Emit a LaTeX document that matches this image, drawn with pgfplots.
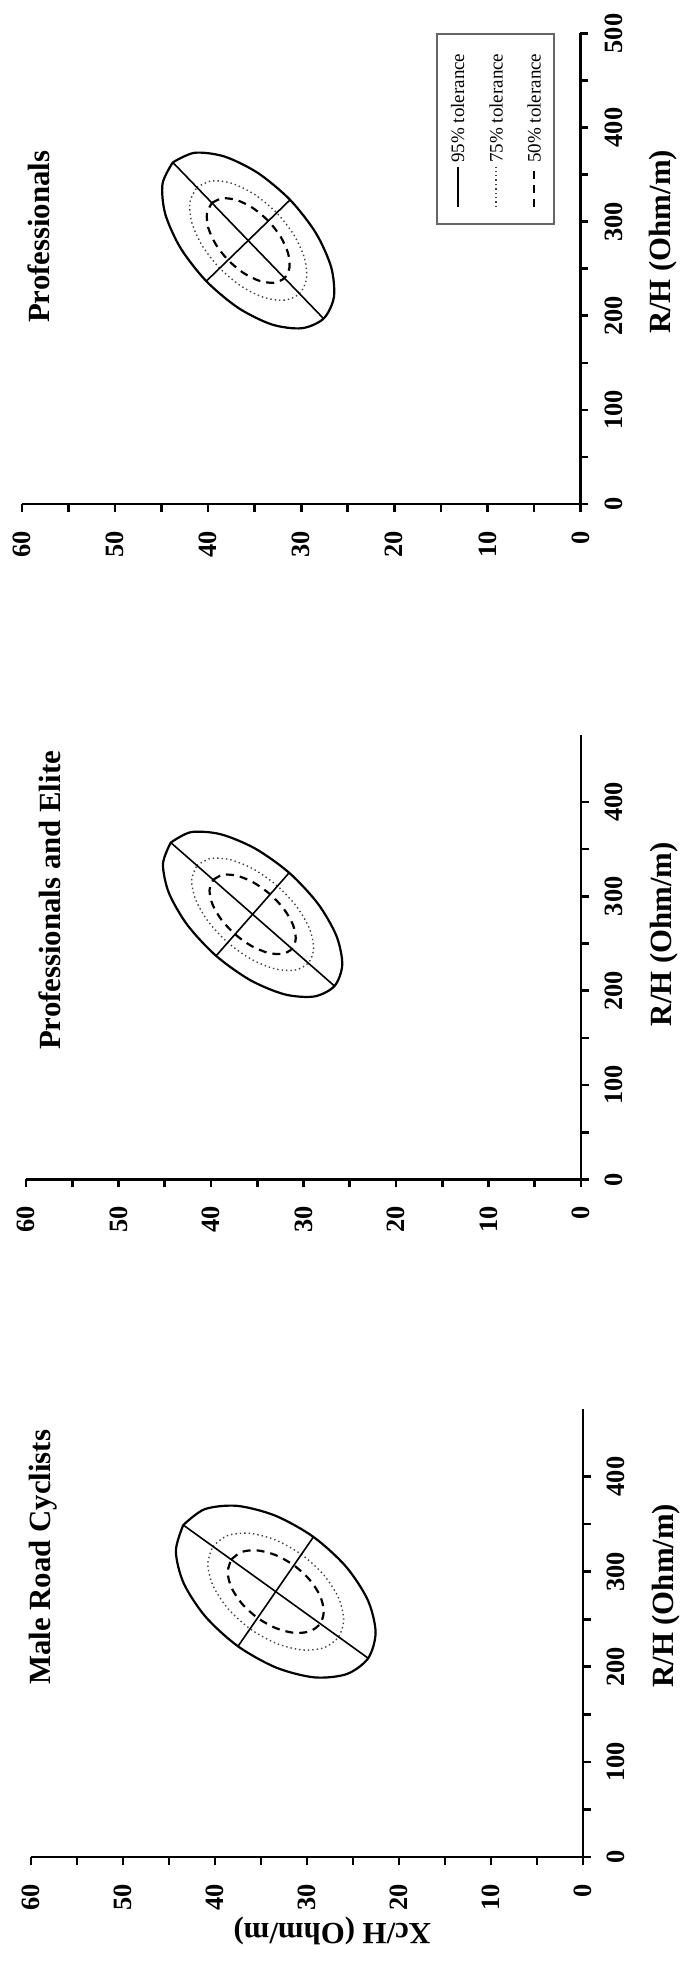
\documentclass[border=0pt]{standalone}
\usepackage{fontspec}
\setmainfont{Liberation Serif}
\usepackage{pgfplots}
\pgfplotsset{compat=1.18}

\newcommand{\tickfont}{\fontsize{13.2}{14}\selectfont\bfseries}
\newcommand{\labfont}{\fontsize{15.4}{16}\selectfont\bfseries}
\newcommand{\legfont}{\fontsize{9.5}{11}\selectfont}

\tikzset{
  e95/.style={black, line width=1.1pt, smooth},
  e75/.style={black!75, line width=0.7pt, dash pattern=on 0.7pt off 1.5pt, smooth},
  e50/.style={black, line width=1.1pt, dash pattern=on 4pt off 3pt, smooth},
}
\pgfplotsset{
  panel/.style={
    scale only axis,
    anchor=origin,
    x dir=reverse,
    xmin=0, xmax=60, ymin=0,
    axis x line*=bottom,
    axis y line*=right,
    clip=false,
    tick align=outside,
    xtick={0,10,...,60},
    minor x tick num=1,
    minor y tick num=1,
    major tick length=4pt,
    minor tick length=4pt,
    axis line style={line width=1.3pt, black},
    every tick/.style={line width=1.3pt, black},
    /pgf/number format/assume math mode=true,
    tick label style={font=\tickfont},
    xticklabel style={rotate=90, anchor=east},
    yticklabel style={rotate=90, anchor=north},
    xticklabel shift=6pt,
    yticklabel shift=4.5pt,
  },
  eax/.style={black, line width=0.8pt, forget plot},
}

\begin{document}
\begin{tikzpicture}
\path[use as bounding box] (0,0) rectangle (340.5pt,982.5pt);

% ---- Professionals (top) ----
\begin{axis}[panel,
    at={(290.25pt,730.5pt)}, width=279.25pt, height=235.25pt,
    ymax=500, ytick={0,100,...,500}]
\addplot[e95] coordinates {(43.8,363) (41.462,373.21) (38.246,369.24) (34.642,351.67) (31.2,323.2) (28.442,288.15) (26.791,251.86) (26.494,219.85) (27.6,197) (29.938,186.79) (33.154,190.76) (36.758,208.33) (40.2,236.8) (42.958,271.85) (44.609,308.14) (44.906,340.15) (43.8,363)};
\addplot[e75] coordinates {(41.208,336.44) (39.618,343.38) (37.431,340.68) (34.981,328.74) (32.64,309.38) (30.765,285.54) (29.642,260.86) (29.44,239.1) (30.192,223.56) (31.782,216.62) (33.969,219.32) (36.419,231.26) (38.76,250.62) (40.635,274.46) (41.758,299.14) (41.96,320.9) (41.208,336.44)};
\addplot[e50] coordinates {(39.596,319.92) (38.472,324.83) (36.925,322.92) (35.191,314.47) (33.535,300.78) (32.209,283.92) (31.415,266.46) (31.272,251.07) (31.804,240.08) (32.928,235.17) (34.475,237.08) (36.209,245.53) (37.865,259.22) (39.191,276.08) (39.985,293.54) (40.128,308.93) (39.596,319.92)};
\addplot[eax] coordinates {(43.8,363) (27.6,197)};
\addplot[eax] coordinates {(31.2,323.2) (40.2,236.8)};
% legend (turned with the figure)
\draw[black!60, line width=0.8pt] (axis description cs:0.743,0.999) rectangle (axis description cs:0.9526,0.5951);
\draw[e95] (axis description cs:0.780,0.631) -- (axis description cs:0.780,0.716);
\draw[e75] (axis description cs:0.849,0.631) -- (axis description cs:0.849,0.716);
\draw[e50] (axis description cs:0.917,0.631) -- (axis description cs:0.917,0.716);
\node[rotate=90, anchor=west, font=\legfont, inner sep=1pt] at (axis description cs:0.780,0.720) {95\% tolerance};
\node[rotate=90, anchor=west, font=\legfont, inner sep=1pt] at (axis description cs:0.849,0.720) {75\% tolerance};
\node[rotate=90, anchor=west, font=\legfont, inner sep=1pt] at (axis description cs:0.917,0.720) {50\% tolerance};
\node[rotate=90, anchor=base west, font=\labfont] at (axis cs:57.0,184.9) {Professionals};
\node[rotate=90, font=\labfont] at ([xshift=41.5pt]axis description cs:1,0.557) {R/H (Ohm/m)};
\end{axis}

% ---- Professionals and Elite (middle) ----
\begin{axis}[panel,
    at={(290.5pt,392.75pt)}, width=277.5pt, height=222.25pt,
    ymax=471, ytick={0,100,...,400}]
\addplot[e95] coordinates {(44.35,357) (42.165,368.06) (38.965,365.85) (35.238,350.74) (31.55,325) (28.464,292.56) (26.449,258.37) (25.811,227.62) (26.65,205) (28.835,193.94) (32.035,196.15) (35.762,211.26) (39.45,237) (42.536,269.44) (44.551,303.63) (45.189,334.38) (44.35,357)};
\addplot[e75] coordinates {(41.518,332.68) (40.032,340.2) (37.856,338.7) (35.322,328.42) (32.814,310.92) (30.716,288.86) (29.345,265.61) (28.911,244.7) (29.482,229.32) (30.968,221.8) (33.144,223.3) (35.678,233.58) (38.186,251.08) (40.284,273.14) (41.655,296.39) (42.089,317.3) (41.518,332.68)};
\addplot[e50] coordinates {(39.757,317.56) (38.706,322.88) (37.167,321.81) (35.374,314.54) (33.6,302.16) (32.116,286.56) (31.146,270.11) (30.84,255.32) (31.243,244.44) (32.294,239.12) (33.833,240.19) (35.626,247.46) (37.4,259.84) (38.884,275.44) (39.854,291.89) (40.16,306.68) (39.757,317.56)};
\addplot[eax] coordinates {(44.35,357) (26.65,205)};
\addplot[eax] coordinates {(31.55,325) (39.45,237)};
\node[rotate=90, anchor=base west, font=\labfont] at (axis cs:56.25,129.8) {Professionals and Elite};
\node[rotate=90, font=\labfont] at ([xshift=41.5pt]axis description cs:1,0.552) {R/H (Ohm/m)};
\end{axis}

% ---- Male Road Cyclists (bottom) ----
\begin{axis}[panel,
    at={(291.5pt,54pt)}, width=276pt, height=224pt,
    ymax=471, ytick={0,100,...,400}]
\addplot[e95] coordinates {(43.45,349) (41.116,365.68) (37.607,369.16) (33.458,358.91) (29.3,336.5) (25.766,305.33) (23.394,270.16) (22.546,236.34) (23.35,209) (25.684,192.32) (29.193,188.84) (33.342,199.09) (37.5,221.5) (41.034,252.67) (43.406,287.84) (44.254,321.66) (43.45,349)};
\addplot[e75] coordinates {(40.234,326.6) (38.647,337.94) (36.261,340.31) (33.439,333.34) (30.612,318.1) (28.209,296.9) (26.596,272.99) (26.019,249.99) (26.566,231.4) (28.153,220.06) (30.539,217.69) (33.361,224.66) (36.188,239.9) (38.591,261.1) (40.204,285.01) (40.781,308.01) (40.234,326.6)};
\addplot[e50] coordinates {(38.234,312.67) (37.111,320.69) (35.424,322.37) (33.428,317.44) (31.428,306.66) (29.728,291.66) (28.587,274.75) (28.179,258.48) (28.566,245.33) (29.689,237.31) (31.376,235.63) (33.372,240.56) (35.372,251.34) (37.072,266.34) (38.213,283.25) (38.621,299.52) (38.234,312.67)};
\addplot[eax] coordinates {(43.45,349) (23.35,209)};
\addplot[eax] coordinates {(29.3,336.5) (37.5,221.5)};
\node[rotate=90, anchor=base west, font=\labfont] at (axis cs:57.9,173.7) {Male Road Cyclists};
\node[rotate=90, font=\labfont] at ([xshift=41.5pt]axis description cs:1,0.583) {R/H (Ohm/m)};
\node[rotate=180, font=\labfont] at ([yshift=-37pt]axis description cs:0.546,0) {Xc/H (Ohm/m)};
\end{axis}
\end{tikzpicture}
\end{document}
